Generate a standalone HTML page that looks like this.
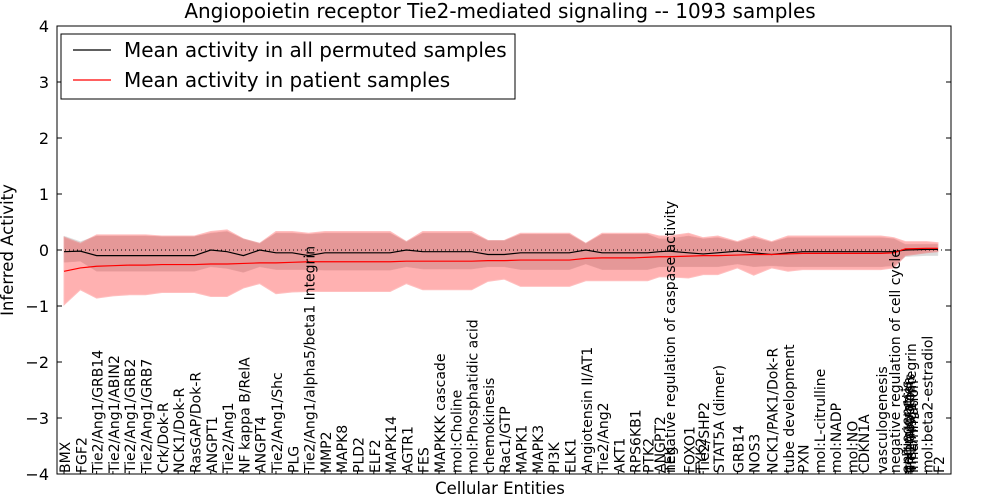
<!DOCTYPE html>
<html><head><meta charset="utf-8">
<style>
html,body{margin:0;padding:0;background:#fff;}
svg{display:block;font-family:"DejaVu Sans","Liberation Sans",sans-serif;}
</style></head>
<body>
<svg id="chart" width="1000" height="500" viewBox="0 0 1000 500" xmlns="http://www.w3.org/2000/svg">
<rect width="1000" height="500" fill="#fff"/>
<text x="500" y="18" text-anchor="middle" font-size="20">Angiopoietin receptor Tie2-mediated signaling -- 1093 samples</text>
<g id="plot"></g>
<text x="500" y="494" text-anchor="middle" font-size="16.5">Cellular Entities</text>
<text transform="translate(13,250) rotate(-90)" text-anchor="middle" font-size="16.5">Inferred Activity</text>
</svg>
<script>
const labels = ["BMX","FGF2","Tie2/Ang1/GRB14","Tie2/Ang1/ABIN2","Tie2/Ang1/GRB2","Tie2/Ang1/GRB7","Crk/Dok-R","NCK1/Dok-R","RasGAP/Dok-R","ANGPT1","Tie2/Ang1","NF kappa B/RelA","ANGPT4","Tie2/Ang1/Shc","PLG","Tie2/Ang1/alpha5/beta1 Integrin","MMP2","MAPK8","PLD2","ELF2","MAPK14","AGTR1","FES","MAPKKK cascade","mol:Choline","mol:Phosphatidic acid","chemokinesis","Rac1/GTP","MAPK1","MAPK3","PI3K","ELK1","Angiotensin II/AT1","Tie2/Ang2","AKT1","RPS6KB1","PTK2","ANGPT2","TEK","negative regulation of caspase activity","FOXO1","TYK2","Tie2/SHP2","STAT5A (dimer)","GRB14","NOS3","NCK1/PAK1/Dok-R","tube development","PXN","mol:L-citrulline","mol:NADP","mol:NO","CDKN1A","vasculogenesis","negative regulation of cell cycle","angiogenesis","cell migration","anti-apoptosis","Tie2/Ang1/Integrin","inflammation","mol:beta2-estradiol","F2"];
const labelPos = [0,1,2,3,4,5,6,7,8,9,10,11,12,13,14,15,16,17,18,19,20,21,22,23,24,25,26,27,28,29,30,31,32,33,34,35,35.8,36.5,37.1,37.1,38.3,39.0,39.2,40.1,41.3,42.3,43.4,44.4,45.3,46.3,47.3,48.3,49.0,50.1,50.9,51.6,51.7,51.8,51.9,52.0,52.9,53.6];
const ptX    = [0,1,2,3,4,5,6,7,8,9,10,11,12,13,14,15,16,17,18,19,20,21,22,23,24,25,26,27,28,29,30,31,32,33,34,35,35.8,36.5,37.1,38.3,39.2,40.1,41.3,42.3,43.4,44.4,45.3,46.3,47.3,48.3,49.0,50.1,50.9,51.6,52.9,53.6];
const permMean = [-0.03,-0.02,-0.1,-0.1,-0.1,-0.1,-0.1,-0.1,-0.1,0,-0.03,-0.1,0,-0.05,-0.05,-0.1,-0.05,-0.05,-0.05,-0.05,-0.05,0,-0.03,-0.03,-0.03,-0.03,-0.08,-0.08,-0.05,-0.05,-0.05,-0.05,0,-0.05,-0.05,-0.05,-0.05,-0.03,-0.02,-0.05,-0.07,-0.05,-0.02,-0.05,-0.08,-0.05,-0.03,-0.03,-0.03,-0.03,-0.03,-0.03,-0.03,0,0.01,0.01];
const permHi  = [0.25,0.15,0.25,0.25,0.25,0.25,0.24,0.24,0.24,0.3,0.33,0.2,0.12,0.3,0.3,0.28,0.3,0.3,0.3,0.3,0.3,0.15,0.3,0.3,0.3,0.3,0.17,0.17,0.28,0.28,0.28,0.28,0.12,0.28,0.28,0.28,0.28,0.2,0.2,0.25,0.2,0.22,0.14,0.22,0.14,0.22,0.22,0.22,0.22,0.22,0.22,0.22,0.2,0.1,0.1,0.1];
const permLo  = [-0.22,-0.2,-0.38,-0.38,-0.38,-0.38,-0.38,-0.38,-0.38,-0.3,-0.33,-0.4,-0.3,-0.35,-0.35,-0.35,-0.36,-0.36,-0.36,-0.36,-0.36,-0.3,-0.34,-0.34,-0.34,-0.34,-0.3,-0.3,-0.35,-0.35,-0.35,-0.35,-0.25,-0.35,-0.35,-0.35,-0.35,-0.3,-0.3,-0.3,-0.3,-0.3,-0.25,-0.3,-0.28,-0.3,-0.3,-0.3,-0.3,-0.3,-0.3,-0.3,-0.28,-0.12,-0.1,-0.1];
const patMean = [-0.38,-0.32,-0.29,-0.28,-0.27,-0.27,-0.26,-0.26,-0.26,-0.25,-0.25,-0.24,-0.23,-0.23,-0.22,-0.21,-0.21,-0.21,-0.21,-0.21,-0.21,-0.2,-0.2,-0.2,-0.2,-0.2,-0.19,-0.19,-0.18,-0.18,-0.18,-0.18,-0.15,-0.14,-0.14,-0.14,-0.13,-0.12,-0.12,-0.11,-0.1,-0.1,-0.09,-0.08,-0.08,-0.07,-0.06,-0.06,-0.06,-0.06,-0.06,-0.06,-0.05,0.02,0.03,0.03];
const patHi  = [0.23,0.12,0.27,0.27,0.27,0.27,0.25,0.25,0.25,0.33,0.36,0.2,0.12,0.33,0.33,0.3,0.33,0.33,0.33,0.33,0.33,0.15,0.33,0.33,0.33,0.33,0.17,0.17,0.3,0.3,0.3,0.3,0.12,0.3,0.3,0.3,0.3,0.25,0.25,0.3,0.22,0.25,0.15,0.25,0.15,0.25,0.25,0.25,0.25,0.25,0.25,0.25,0.22,0.15,0.15,0.13];
const patLo  = [-0.98,-0.71,-0.86,-0.82,-0.8,-0.8,-0.76,-0.76,-0.76,-0.83,-0.83,-0.68,-0.6,-0.78,-0.75,-0.74,-0.74,-0.74,-0.74,-0.74,-0.74,-0.6,-0.71,-0.71,-0.71,-0.71,-0.56,-0.52,-0.65,-0.65,-0.65,-0.65,-0.55,-0.55,-0.55,-0.55,-0.55,-0.48,-0.48,-0.5,-0.44,-0.44,-0.32,-0.45,-0.32,-0.38,-0.35,-0.35,-0.35,-0.35,-0.35,-0.35,-0.32,-0.1,-0.05,-0.03];
const yTicks = [-4,-3,-2,-1,0,1,2,3,4];

const L=57,R=951,T=26,B=474, X0=-0.43, X1=54.4, Y0=-4, Y1=4;
const sx=v=>L+(v-X0)/(X1-X0)*(R-L);
const sy=v=>B-(v-Y0)/(Y1-Y0)*(B-T);
const NS="http://www.w3.org/2000/svg";
const g=document.getElementById('plot');
function mk(tag,attrs){const e=document.createElementNS(NS,tag);for(const k in attrs)e.setAttribute(k,attrs[k]);g.appendChild(e);return e;}
function band(hi,lo){let d='';ptX.forEach((x,i)=>{d+=(i?'L':'M')+sx(x)+','+sy(hi[i]);});for(let i=ptX.length-1;i>=0;i--)d+='L'+sx(ptX[i])+','+sy(lo[i]);return d+'Z';}
function line(vals){return ptX.map((x,i)=>(i?'L':'M')+sx(x)+','+sy(vals[i])).join('');}

const gb=mk('path',{d:band(permHi,permLo),fill:'#999',opacity:'0.35',stroke:'#aaa','stroke-width':'0.5'});


const rb=mk('path',{d:band(patHi,patLo),fill:'#ff0000',opacity:'0.3',stroke:'#ff3030','stroke-width':'1'});


const zl=mk('line',{x1:L,x2:R,y1:sy(0),y2:sy(0),stroke:'#000','stroke-dasharray':'1,3','stroke-width':'1'});


const bl=mk('path',{d:line(permMean),fill:'none',stroke:'#000','stroke-width':'1.2'});


const rl=mk('path',{d:line(patMean),fill:'none',stroke:'#ff0000','stroke-width':'1.2'});



yTicks.forEach(v=>{
  const y=sy(v);
  mk('line',{x1:L,x2:L+5,y1:y,y2:y,stroke:'#000'});
  mk('line',{x1:R-5,x2:R,y1:y,y2:y,stroke:'#000'});
  const t=mk('text',{x:L-8,y:y+6,'text-anchor':'end','font-size':'16'});
  t.textContent=(v<0?'\u2212'+(-v):String(v));
  
  
});
labels.forEach((s,i)=>{
  const x=sx(labelPos[i]);
  mk('line',{x1:x,x2:x,y1:B,y2:B-3,stroke:'#000'});
  const t=mk('text',{transform:'translate('+(x+6)+','+(B-1)+') rotate(-90)','font-size':'14'});
  t.textContent=s;
  
  
});
const fr=mk('rect',{x:L,y:T,width:R-L,height:B-T,fill:'none',stroke:'#000','stroke-width':'1'});



const lg=mk('rect',{x:61,y:34,width:454,height:65,fill:'#fff',stroke:'#000'});


mk('line',{x1:73,x2:111,y1:50,y2:50,stroke:'#000','stroke-width':'1.2'});
const l1=mk('text',{x:124,y:57,'font-size':'20'});l1.textContent='Mean activity in all permuted samples';


mk('line',{x1:73,x2:111,y1:80,y2:80,stroke:'#ff0000','stroke-width':'1.2'});
const l2=mk('text',{x:124,y:87,'font-size':'20'});l2.textContent='Mean activity in patient samples';


</script>
</body></html>
